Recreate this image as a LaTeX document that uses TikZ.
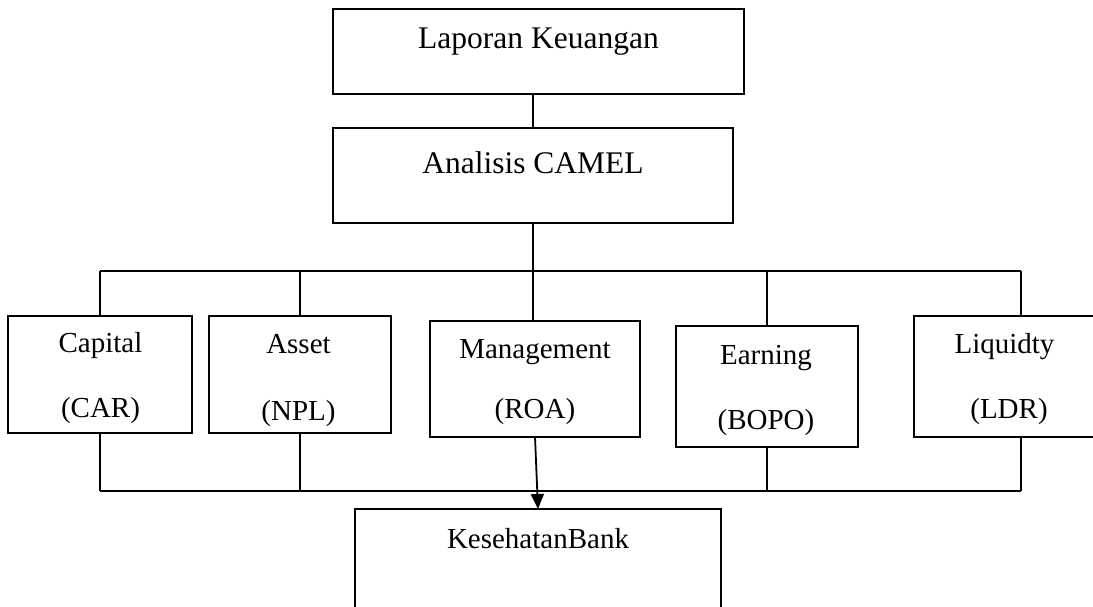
\documentclass[tikz,border=0pt]{standalone}
\usepackage{fontspec}
\setmainfont{Liberation Serif}
\usetikzlibrary{arrows.meta}
\begin{document}
\begin{tikzpicture}[x=1pt,y=-1pt,
  box/.style={draw, line width=1.8pt, inner sep=0pt, outer sep=0pt},
  conn/.style={line width=1.8pt},
  bigtxt/.style={anchor=base, inner sep=0pt, font=\fontsize{31.5}{36}\selectfont},
  smalltxt/.style={anchor=base, inner sep=0pt, font=\fontsize{29}{34}\selectfont}]
\path[use as bounding box] (0,0) rectangle (1093,607);
\clip (0,0) rectangle (1093,607);
% boxes
\node[box, minimum width=411pt, minimum height=85pt] (lap) at (538.5,51.5) {};
\node[box, minimum width=400pt, minimum height=95pt] (ana) at (533,175.5) {};
\node[box, minimum width=184pt, minimum height=117pt] (cap) at (100,374.5) {};
\node[box, minimum width=182pt, minimum height=117pt] (ast) at (300,374.5) {};
\node[box, minimum width=210pt, minimum height=116pt] (man) at (535,379) {};
\node[box, minimum width=182pt, minimum height=121pt] (ear) at (767,386.5) {};
\node[box, minimum width=214pt, minimum height=121pt] (liq) at (1021,376.5) {};
\node[box, minimum width=366pt, minimum height=140pt] (kes) at (538,579) {};
% texts
\node[bigtxt] (lapT) at (538.5,48.5) {Laporan Keuangan};
\node[bigtxt] (anaT) at (533,174) {Analisis CAMEL};
\node[smalltxt] (capT) at (100.5,352) {Capital};
\node[smalltxt] (capS) at (100.5,417) {(CAR)};
\node[smalltxt] (astT) at (298.5,353) {Asset};
\node[smalltxt] (astS) at (298.5,420) {(NPL)};
\node[smalltxt] (manT) at (535,358) {Management};
\node[smalltxt] (manS) at (535,418) {(ROA)};
\node[smalltxt] (earT) at (766,364) {Earning};
\node[smalltxt] (earS) at (766,429) {(BOPO)};
\node[smalltxt] (liqT) at (1004.5,353) {Liquidty};
\node[smalltxt] (liqS) at (1009,418) {(LDR)};
\node[smalltxt] (kesT) at (538,548) {KesehatanBank};
% bus coordinates
\coordinate (busL) at (100,271);
\coordinate (busR) at (1021,271);
\coordinate (botL) at (100,491);
\coordinate (botR) at (1021,491);
% connectors
\draw[conn] (lap.south -| ana.north) -- (ana.north);
\draw[conn] (ana.south) -- (ana.south |- busL);
\draw[conn] (busL) -- (busR);
\draw[conn] (busL) -- (cap.north);
\draw[conn] (ast.north |- busL) -- (ast.north);
\draw[conn] (ana.south |- busL) -- (ana.south |- man.north);
\draw[conn] (ear.north |- busL) -- (ear.north);
\draw[conn] (busR) -- (liq.north);
\draw[conn] (cap.south) -- (botL);
\draw[conn] (ast.south) -- (ast.south |- botL);
\draw[conn] (ear.south) -- (ear.south |- botL);
\draw[conn] (liq.south) -- (botR);
\draw[conn] (botL) -- (botR);
\draw[conn, -{Triangle[length=15pt,width=13pt]}] (man.south) -- (kes.north);
\end{tikzpicture}
\end{document}
